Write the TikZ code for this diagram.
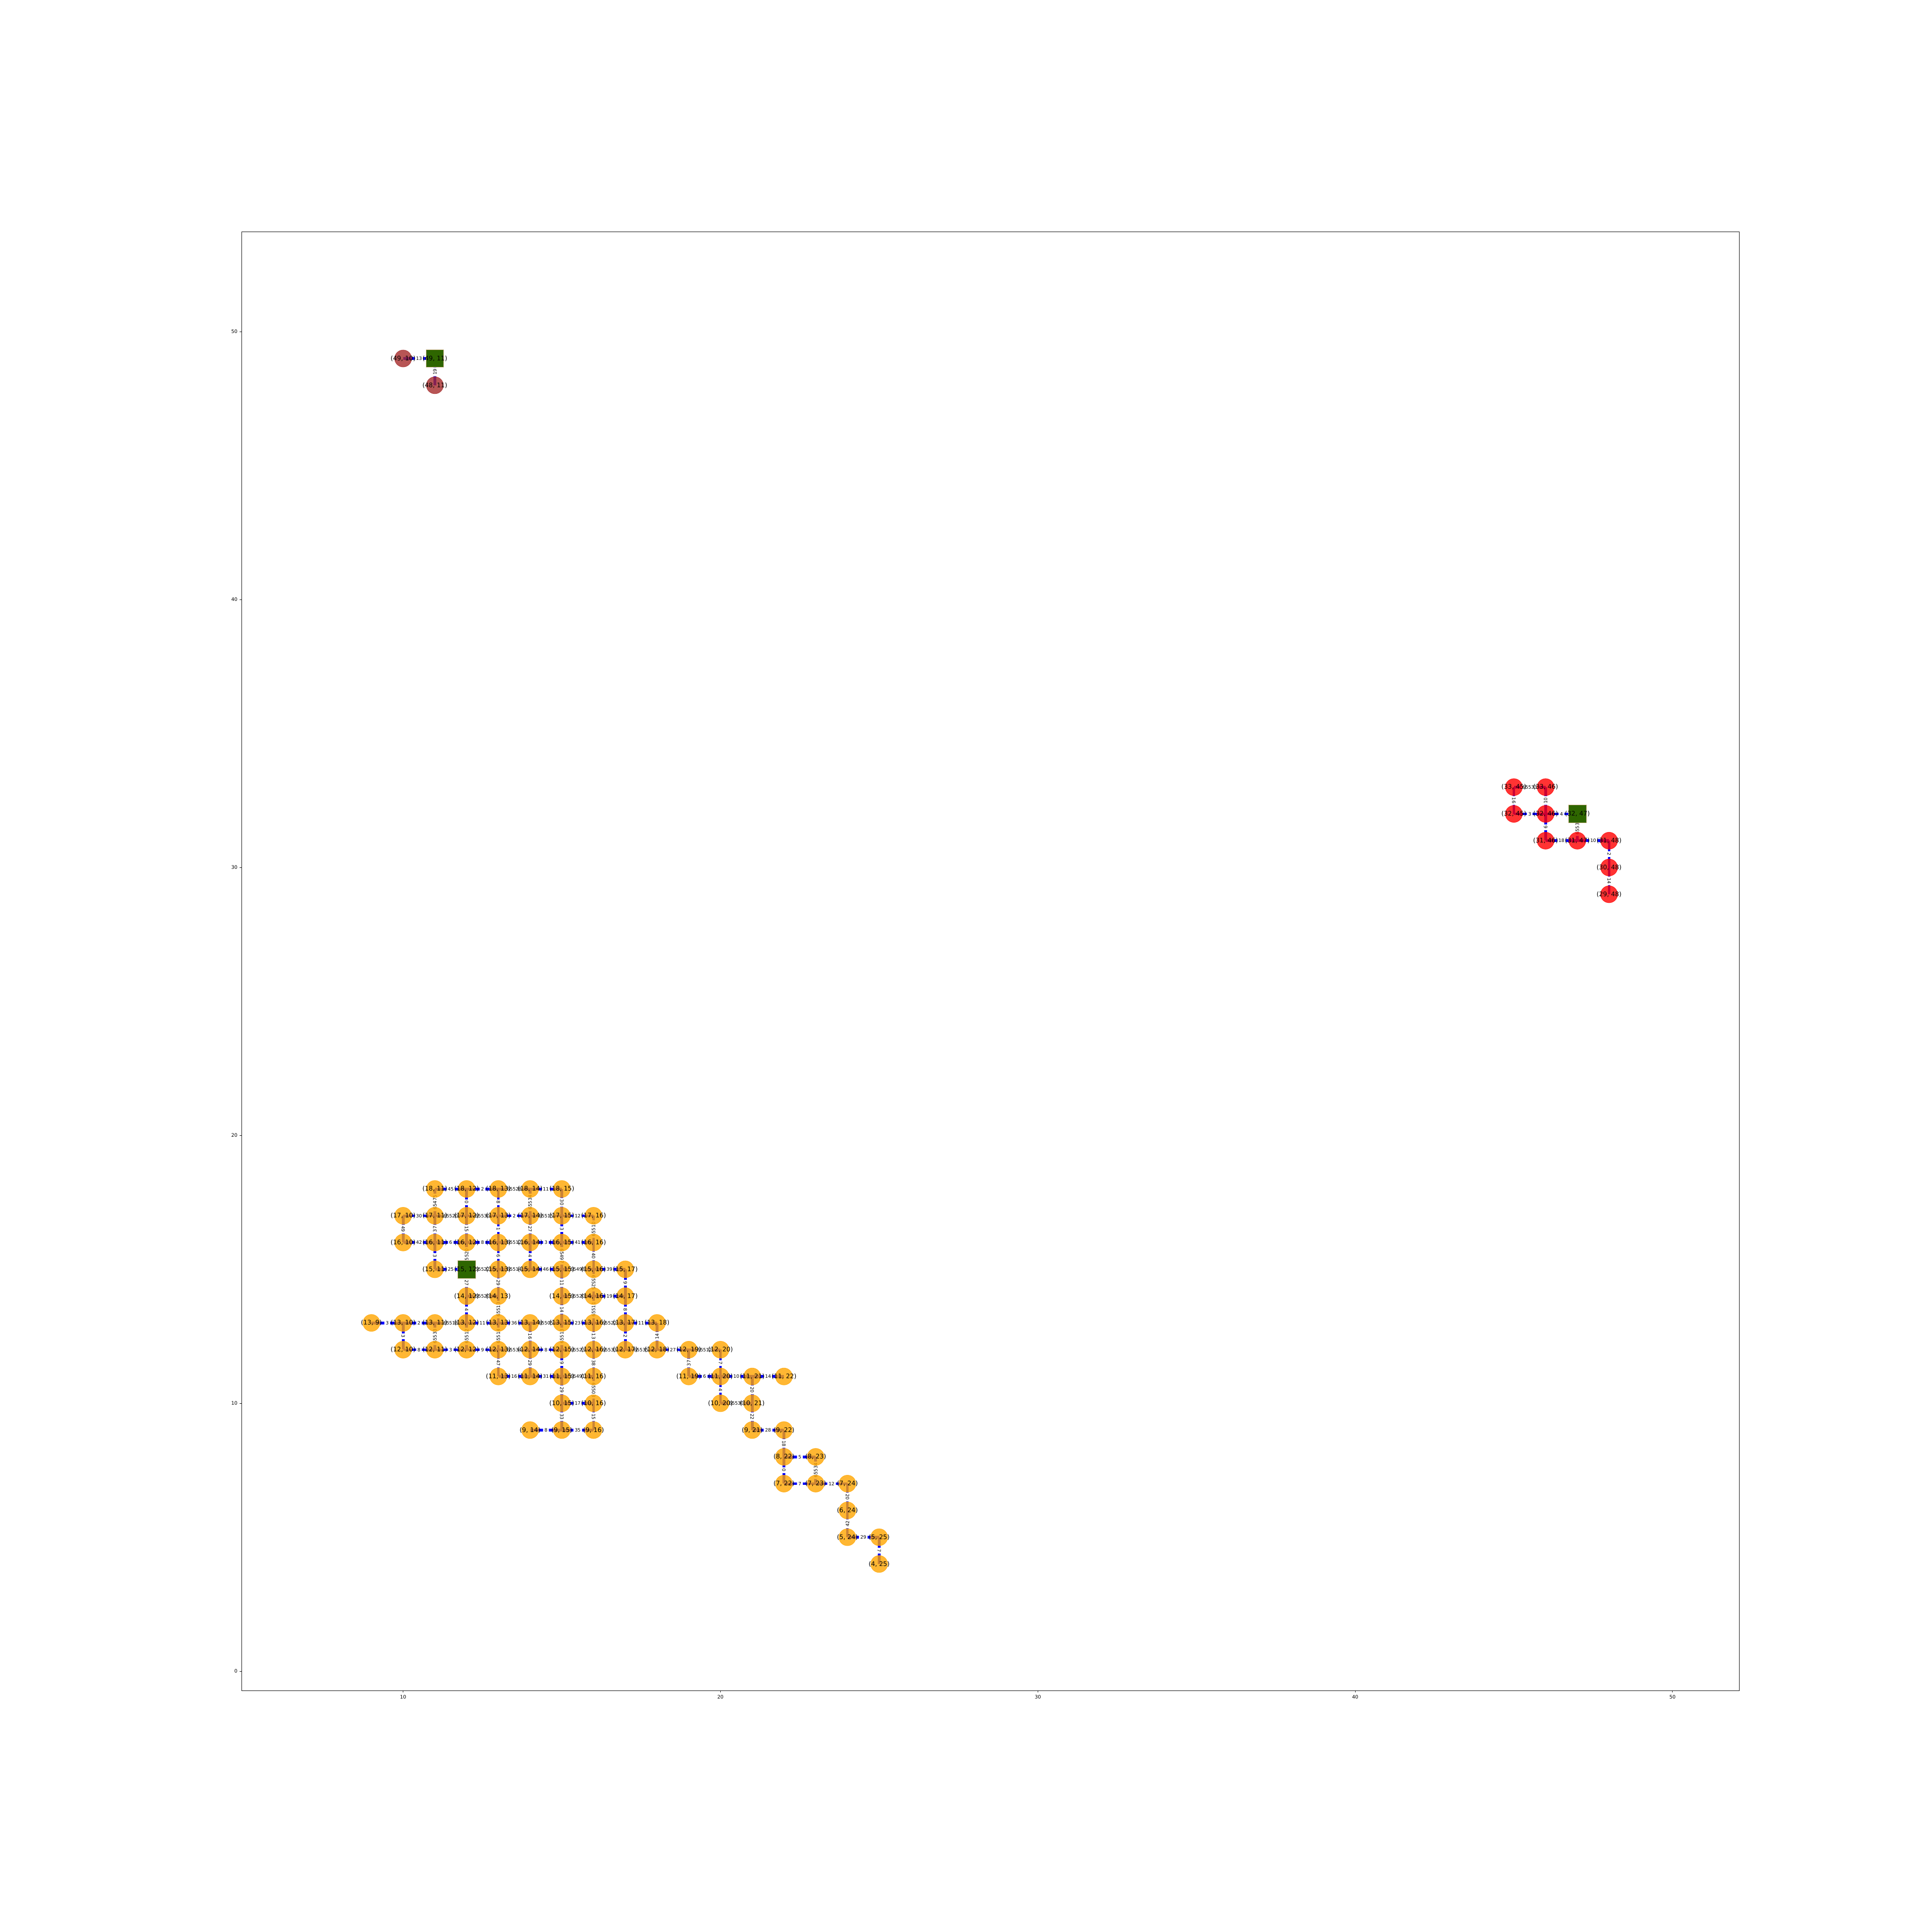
\documentclass[tikz,border=0pt]{standalone}
\usepackage{fontspec}
\setmainfont{DejaVu Sans}
\usetikzlibrary{positioning}
\definecolor{nodeorange}{RGB}{255,165,0}
\definecolor{nodered}{RGB}{255,0,0}
\definecolor{nodebrown}{RGB}{165,42,42}
\definecolor{goalgreen}{RGB}{46,102,0}
\definecolor{goaltan}{RGB}{210,180,140}
\definecolor{edgeblue}{RGB}{0,0,255}
\pgfdeclarelayer{edges}
\pgfdeclarelayer{elabels}
\pgfsetlayers{edges,elabels,main}
\tikzset{
  dot/.style={circle, minimum size=0.44cm, inner sep=0pt, outer sep=0pt, fill opacity=0.8, draw opacity=0.8, line width=0.01cm},
  orangedot/.style={dot, fill=nodeorange, draw=nodeorange},
  reddot/.style={dot, fill=nodered, draw=nodered},
  browndot/.style={dot, fill=nodebrown, draw=nodebrown},
  goal/.style={rectangle, minimum size=0.46cm, inner sep=0pt, outer sep=0pt, fill=goalgreen, draw=goaltan, line width=0.01cm},
  nlabel/.style={font=\fontsize{4.64}{5}\selectfont, text opacity=1, inner sep=0pt},
  edge/.style={draw=edgeblue, line width=0.07cm},
  elabel/.style={fill=white, inner sep=0.036cm, rounded corners=0.03cm, font=\fontsize{3.4}{4}\selectfont},
  axisline/.style={line width=0.011cm, black},
  ticklabel/.style={font=\fontsize{3.58}{4}\selectfont, inner sep=0pt}
}

\begin{document}
\begin{tikzpicture}[x=0.8213cm, y=0.6933cm]
    \useasboundingbox (-2.703,-9.736) rectangle (58.176,62.383);

    % Axes frame and ticks
    \draw[axisline] (4.911,-0.721) rectangle (52.097,53.724);
    \foreach \v in {10,20,30,40,50} {
        \draw[axisline] (\v,-0.721) -- (\v,-0.793);
        \node[ticklabel] (xt\v) at (\v,-0.959) {\v};
    }
    \foreach \v in {0,10,20,30,40,50} {
        \draw[axisline] (4.911,\v) -- (4.850,\v);
        \node[ticklabel, anchor=east] (yt\v) at (4.789,\v) {\v};
    }

    % Orange component
    \foreach \r/\c in {18/11,18/12,18/13,18/14,18/15,
                       17/10,17/11,17/12,17/13,17/14,17/15,17/16,
                       16/10,16/11,16/12,16/13,16/14,16/15,16/16,
                       15/11,15/13,15/14,15/15,15/16,15/17,
                       14/12,14/13,14/15,14/16,14/17,
                       13/9,13/10,13/11,13/12,13/13,13/14,13/15,13/16,13/17,13/18,
                       12/10,12/11,12/12,12/13,12/14,12/15,12/16,12/17,12/18,12/19,12/20,
                       11/13,11/14,11/15,11/16,11/19,11/20,11/21,11/22,
                       10/15,10/16,10/20,10/21,
                       9/14,9/15,9/16,9/21,9/22,
                       8/22,8/23,7/22,7/23,7/24,6/24,5/24,5/25,4/25} {
        \node[orangedot, label={[nlabel]center:{(\r, \c)}}] (n\r-\c) at (\c,\r) {};
    }
    \node[goal, label={[nlabel]center:{(15, 12)}}] (n15-12) at (12,15) {};

    % Red component
    \foreach \r/\c in {33/45,33/46,32/45,32/46,31/46,31/47,31/48,30/48,29/48} {
        \node[reddot, label={[nlabel]center:{(\r, \c)}}] (n\r-\c) at (\c,\r) {};
    }
    \node[goal, label={[nlabel]center:{(32, 47)}}] (n32-47) at (47,32) {};

    % Brown component
    \foreach \r/\c in {49/10,48/11} {
        \node[browndot, label={[nlabel]center:{(\r, \c)}}] (n\r-\c) at (\c,\r) {};
    }
    \node[goal, label={[nlabel]center:{(49, 11)}}] (n49-11) at (11,49) {};

    % Weighted edges: from/to/weight/label angle
    \foreach \a/\b/\w/\t in {
        18-11/18-12/45/0, 18-12/18-13/2/0, 18-13/18-14/65528/0, 18-14/18-15/11/0,
        17-10/17-11/30/0, 17-11/17-12/65520/0, 17-12/17-13/65530/0, 17-13/17-14/2/0, 17-14/17-15/65515/0, 17-15/17-16/12/0,
        16-10/16-11/42/0, 16-11/16-12/6/0, 16-12/16-13/8/0, 16-13/16-14/65512/0, 16-14/16-15/3/0, 16-15/16-16/41/0,
        15-11/15-12/25/0, 15-12/15-13/65522/0, 15-13/15-14/65514/0, 15-14/15-15/46/0, 15-15/15-16/65498/0, 15-16/15-17/39/0,
        14-12/14-13/65520/0, 14-15/14-16/65520/0, 14-16/14-17/19/0,
        13-9/13-10/3/0, 13-10/13-11/2/0, 13-11/13-12/65518/0, 13-12/13-13/11/0, 13-13/13-14/36/0, 13-14/13-15/65505/0,
        13-15/13-16/23/0, 13-16/13-17/65522/0, 13-17/13-18/11/0,
        12-10/12-11/8/0, 12-11/12-12/3/0, 12-12/12-13/9/0, 12-13/12-14/65534/0, 12-14/12-15/8/0, 12-15/12-16/65523/0,
        12-16/12-17/65533/0, 12-17/12-18/65535/0, 12-18/12-19/27/0, 12-19/12-20/65512/0,
        11-13/11-14/16/0, 11-14/11-15/31/0, 11-15/11-16/65491/0, 11-19/11-20/6/0, 11-20/11-21/10/0, 11-21/11-22/14/0,
        10-15/10-16/17/0, 10-20/10-21/65530/0,
        9-14/9-15/8/0, 9-15/9-16/35/0, 9-21/9-22/28/0,
        8-22/8-23/5/0, 7-22/7-23/7/0, 7-23/7-24/12/0, 5-24/5-25/29/0,
        17-10/16-10/49/-90, 13-10/12-10/3/-90,
        18-11/17-11/65475/90, 17-11/16-11/37/90, 16-11/15-11/3/-90, 13-11/12-11/65533/90,
        18-12/17-12/0/-90, 17-12/16-12/15/-90, 16-12/15-12/65520/90, 15-12/14-12/27/-90, 14-12/13-12/4/-90, 13-12/12-12/65512/90,
        18-13/17-13/8/-90, 17-13/16-13/1/-90, 16-13/15-13/6/-90, 15-13/14-13/29/-90, 14-13/13-13/65513/90, 13-13/12-13/65514/90, 12-13/11-13/47/-90,
        18-14/17-14/65534/90, 17-14/16-14/27/-90, 16-14/15-14/4/-90, 13-14/12-14/16/-90, 12-14/11-14/29/-90,
        18-15/17-15/30/-90, 17-15/16-15/3/-90, 16-15/15-15/65497/-90, 15-15/14-15/11/-90, 14-15/13-15/14/-90,
        13-15/12-15/65513/90, 12-15/11-15/9/-90, 11-15/10-15/29/-90, 10-15/9-15/33/-90,
        17-16/16-16/65510/90, 16-16/15-16/40/-90, 15-16/14-16/65525/-90, 14-16/13-16/65511/90, 13-16/12-16/13/-90,
        12-16/11-16/38/-90, 11-16/10-16/65503/-90, 10-16/9-16/15/-90,
        15-17/14-17/9/-90, 14-17/13-17/8/-90, 13-17/12-17/2/-90, 13-18/12-18/14/90, 12-19/11-19/37/90,
        12-20/11-20/7/-90, 11-20/10-20/4/-90, 11-21/10-21/20/-90, 10-21/9-21/22/-90,
        9-22/8-22/18/-90, 8-22/7-22/0/-90, 8-23/7-23/65534/90, 7-24/6-24/20/-90, 6-24/5-24/42/90, 5-25/4-25/7/-90,
        33-45/33-46/65533/0, 32-45/32-46/3/0, 32-46/32-47/4/0, 31-46/31-47/18/0, 31-47/31-48/10/0,
        33-45/32-45/16/-90, 33-46/32-46/10/90, 32-46/31-46/9/-90, 32-47/31-47/65535/90, 31-48/30-48/2/-90, 30-48/29-48/14/-90,
        49-10/49-11/13/0, 49-11/48-11/19/90} {
        \begin{pgfonlayer}{edges}
            \draw[edge] (n\a.center) -- (n\b.center);
        \end{pgfonlayer}
        \begin{pgfonlayer}{elabels}
            \path (n\a.center) -- (n\b.center) node[elabel, midway, rotate=\t] (w\a-\b) {\w};
        \end{pgfonlayer}
    }
\end{tikzpicture}
\end{document}
